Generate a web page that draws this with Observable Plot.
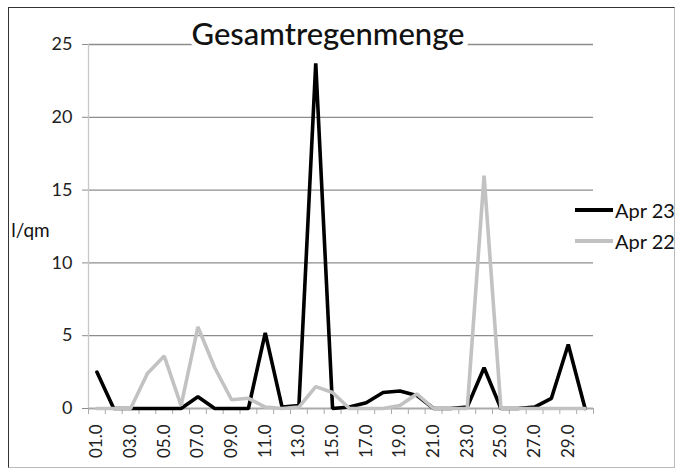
<!DOCTYPE html>
<html><head><meta charset="utf-8">
<script src="https://cdn.jsdelivr.net/npm/d3@7"></script>
<script src="https://cdn.jsdelivr.net/npm/@observablehq/plot@0.6"></script>
<style>
body{margin:0;background:#fff;}
#wrap{position:relative;width:681px;height:472px;font-family:Lato,sans-serif;overflow:hidden;}
#frame{position:absolute;left:8px;top:7px;width:667px;height:461px;box-sizing:border-box;border-left:1.5px solid #333;border-top:1.5px solid #333;border-right:1px solid #bbb;border-bottom:1px solid #bbb;pointer-events:none;}
#chart{position:absolute;left:0;top:0;}
.leg{position:absolute;left:575px;display:flex;align-items:center;font-size:20px;color:#111;}
.leg span.sw{display:inline-block;width:38px;height:4px;margin-right:2px;}
</style></head><body>
<div id="wrap"><div id="chart"></div><div id="frame"></div></div>
<script>
const days = [1,2,3,4,5,6,7,8,9,10,11,12,13,14,15,16,17,18,19,20,21,22,23,24,25,26,27,28,29,30];
const apr23 = [2.5,0,0,0,0,0,0.8,0,0,0,5.2,0.1,0.2,23.7,0,0.1,0.4,1.1,1.2,0.9,0,0,0.1,2.8,0,0,0.1,0.7,4.4,0];
const apr22 = [0,0,0,2.4,3.6,0.2,5.6,2.8,0.6,0.7,0.1,0,0.1,1.5,1.1,0,0,0,0.2,1.0,0,0,0,16.0,0,0,0,0,0,0];
const seriesNames = ["Apr 23", "Apr 22"];
const seriesColors = ["#000000", "#c2c2c2"];
const yTicks = [0,5,10,15,20,25];
const labelDays = [1,3,5,7,9,11,13,15,17,19,21,23,25,27,29];
const xLabels = ["01.0","03.0","05.0","07.0","09.0","11.0","13.0","15.0","17.0","19.0","21.0","23.0","25.0","27.0","29.0"];
const title = "Gesamtregenmenge";
const yLabel = "l/qm";

const data = [];
[apr23, apr22].forEach((vals, s) => vals.forEach((v, i) => data.push({day: days[i], value: v, series: seriesNames[s]})));
const boundaries = [days[0] - 0.5, ...days.map(d => d + 0.5)];

const chart = Plot.plot({
  width: 681, height: 472,
  marginLeft: 88, marginRight: 88, marginTop: 44, marginBottom: 64,
  style: {fontFamily: "Lato, sans-serif", background: "transparent", color: "#222"},
  x: {type: "linear", domain: [days[0] - 0.5, days[days.length - 1] + 0.5], axis: null},
  y: {domain: [0, 25], axis: null},
  color: {domain: seriesNames, range: seriesColors},
  marks: [
    Plot.gridY(yTicks, {stroke: "#8c8c8c", strokeOpacity: 1, strokeWidth: 1.3}),
    Plot.axisY({ticks: yTicks, label: null, tickSize: 6, tickPadding: 10, fontSize: 18, stroke: "#8c8c8c", fill: "#222"}),
    Plot.ruleX([boundaries[0]], {stroke: "#c8c8c8", strokeWidth: 1.3}),
    Plot.ruleY([0], {stroke: "#aaaaaa", strokeWidth: 1.5}),
    Plot.axisX({ticks: boundaries, label: null, tickSize: 6, tickFormat: () => "", stroke: "#aaaaaa"}),
    Plot.axisX({ticks: labelDays, label: null, tickSize: 0, tickPadding: 16, tickRotate: -90, fontSize: 17, fill: "#222",
      tickFormat: d => xLabels[labelDays.indexOf(d)]}),
    Plot.line(data, {x: "day", y: "value", z: "series", stroke: "series", strokeWidth: 3.6, strokeLinejoin: "miter"}),
    Plot.text([title], {frameAnchor: "top", lineAnchor: "bottom", dx: -13, dy: 0, fontSize: 31, fontWeight: 500, fill: "#111", stroke: "white", strokeWidth: 10}),
    Plot.text([yLabel], {frameAnchor: "left", textAnchor: "middle", dx: -58, dy: 4, fontSize: 19, fill: "#111"})
  ]
});
document.getElementById("chart").appendChild(chart);

const wrap = document.getElementById("wrap");
const legTops = [198, 229];
seriesNames.forEach((n, i) => {
  const d = document.createElement("div");
  d.className = "leg";
  d.style.top = legTops[i] + "px";
  d.innerHTML = `<span class="sw" style="background:${seriesColors[i]}"></span><span>${n}</span>`;
  wrap.appendChild(d);
});
</script>
</body></html>
